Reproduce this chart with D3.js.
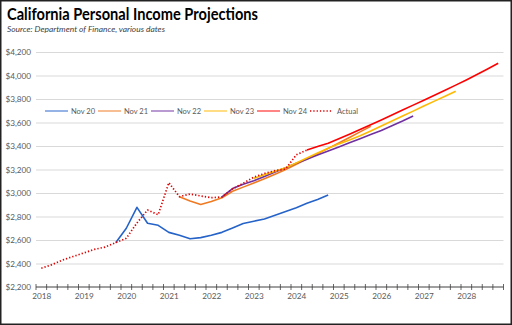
<!DOCTYPE html>
<html><head><meta charset="utf-8">
<script src="https://cdn.jsdelivr.net/npm/d3@7"></script>
<style>html,body{margin:0;padding:0;background:#fff;}svg{display:block;}</style>
</head><body>
<svg id="c" width="512" height="325"></svg>
<script>
// ---- data (quarterly, $ billions) ----
const yTicks = [2200,2400,2600,2800,3000,3200,3400,3600,3800,4000,4200];
const xYears = [2018,2019,2020,2021,2022,2023,2024,2025,2026,2027,2028];
const seriesNames = ["Nov 20","Nov 21","Nov 22","Nov 23","Nov 24","Actual"];
const seriesStart = [2019.75, 2021.25, 2022.25, 2023.0, 2024.25, 2018.0];
const nov20 = [2577,2700,2878,2742,2725,2665,2640,2610,2620,2640,2665,2703,2740,2760,2778,2810,2842,2875,2912,2945,2983];
const nov21 = [2969,2932,2903,2928,2960,3015,3050,3085,3122,3160,3200,3245,3290,3335,3380,3425,3472,3520,3568];
const nov22 = [2966,3038,3075,3105,3140,3178,3215,3253,3288,3323,3358,3392,3427,3462,3497,3532,3572,3612,3655];
const nov23 = [3125,3155,3185,3215,3255,3298,3340,3380,3418,3452,3487,3527,3570,3612,3655,3697,3740,3782,3824,3866];
const nov24 = [3366,3395,3423,3462,3500,3540,3580,3622,3664,3706,3748,3790,3832,3875,3918,3962,4008,4055,4104];
const actual = [2360,2390,2430,2460, 2490,2520,2540,2577, 2615,2745,2855,2815, 3088,2969,2991,2975, 2960,2966,3035,3083, 3135,3166,3190,3205, 3325,3366];
const seriesValues = [nov20,nov21,nov22,nov23,nov24,actual];
const colors = ["#2563C9","#F07A22","#7030A0","#FFB900","#FF0000","#E00000"];

const svg = d3.select("#c");
const x = d3.scaleLinear().domain([2017.875, 2028.875]).range([36, 503.5]);
const y = d3.scaleLinear().domain([2200, 4200]).range([287, 52]);
const font = "Lato, 'Liberation Sans', sans-serif";

// border
svg.append("rect").attr("x",0.75).attr("y",0.75).attr("width",510.5).attr("height",323.5)
  .attr("fill","#fff").attr("stroke","#222").attr("stroke-width",1.5);

// title
svg.append("text").attr("x",7).attr("y",20).text("California Personal Income Projections")
  .attr("font-family",font).attr("font-weight","bold").attr("font-size",17).attr("fill","#000")
  .attr("textLength",251).attr("lengthAdjust","spacingAndGlyphs");
svg.append("text").attr("x",7).attr("y",32).text("Source:  Department of Finance, various dates")
  .attr("font-family",font).attr("font-style","italic").attr("font-size",8.5).attr("fill","#404040")
  .attr("textLength",158).attr("lengthAdjust","spacingAndGlyphs");

// gridlines + y labels
const yAxis = d3.axisLeft(y).tickValues(yTicks).tickSize(-(503.5-36)).tickPadding(5)
  .tickFormat(d => "$" + d3.format(",")(d));
const gy = svg.append("g").attr("transform","translate(36,0)").call(yAxis);
gy.select(".domain").remove();
gy.selectAll(".tick line").attr("stroke","#d9d9d9").attr("stroke-width",1);
gy.selectAll(".tick").filter(d => d===2200).select("line").remove();
gy.selectAll(".tick text").attr("font-family",font).attr("font-size",8.2).attr("fill","#595959");

// x axis
const qTicks = d3.range(0,45).map(i => 2017.875 + i*0.25);
const gx = svg.append("g").attr("transform","translate(0,287)");
gx.append("line").attr("x1",x(2017.875)).attr("x2",x(2028.875)).attr("stroke","#404040").attr("stroke-width",1);
gx.selectAll("line.tk").data(qTicks).enter().append("line").attr("class","tk")
  .attr("x1",d=>x(d)).attr("x2",d=>x(d)).attr("y1",-3).attr("y2",3)
  .attr("stroke","#404040").attr("stroke-width",0.8);
const xAxis = d3.axisBottom(x).tickValues(xYears).tickSize(0).tickPadding(6).tickFormat(d3.format("d"));
const gxl = svg.append("g").attr("transform","translate(0,287)").call(xAxis);
gxl.select(".domain").remove();
gxl.selectAll(".tick text").attr("font-family",font).attr("font-size",8.2).attr("fill","#595959");

// lines
const line = d3.line().x(d=>x(d[0])).y(d=>y(d[1]));
const order = [0,1,2,3,5,4];
order.forEach(i => {
  const pts = seriesValues[i].map((v,k) => [seriesStart[i] + k*0.25, v]);
  const p = svg.append("path").datum(pts).attr("d",line).attr("fill","none")
    .attr("stroke",colors[i]).attr("stroke-width",1.6).attr("stroke-linejoin","round");
  if (i===5) p.attr("stroke-dasharray","1.3,2").attr("stroke-width",1.7);
});

// legend
const legX = [45,98,151,204,257,310];
seriesNames.forEach((n,i) => {
  const g = svg.append("g");
  const l = g.append("line").attr("x1",legX[i]).attr("x2",legX[i]+23).attr("y1",111).attr("y2",111)
    .attr("stroke",colors[i]).attr("stroke-width",1.6).attr("opacity",0.6);
  if (i===5) l.attr("stroke-dasharray","1.3,2").attr("opacity",1);
  g.append("text").attr("x",legX[i]+ (i===5?27:26)).attr("y",113.5).text(n)
    .attr("font-family",font).attr("font-size",7.5).attr("fill","#595959");
});
</script>
</body></html>
